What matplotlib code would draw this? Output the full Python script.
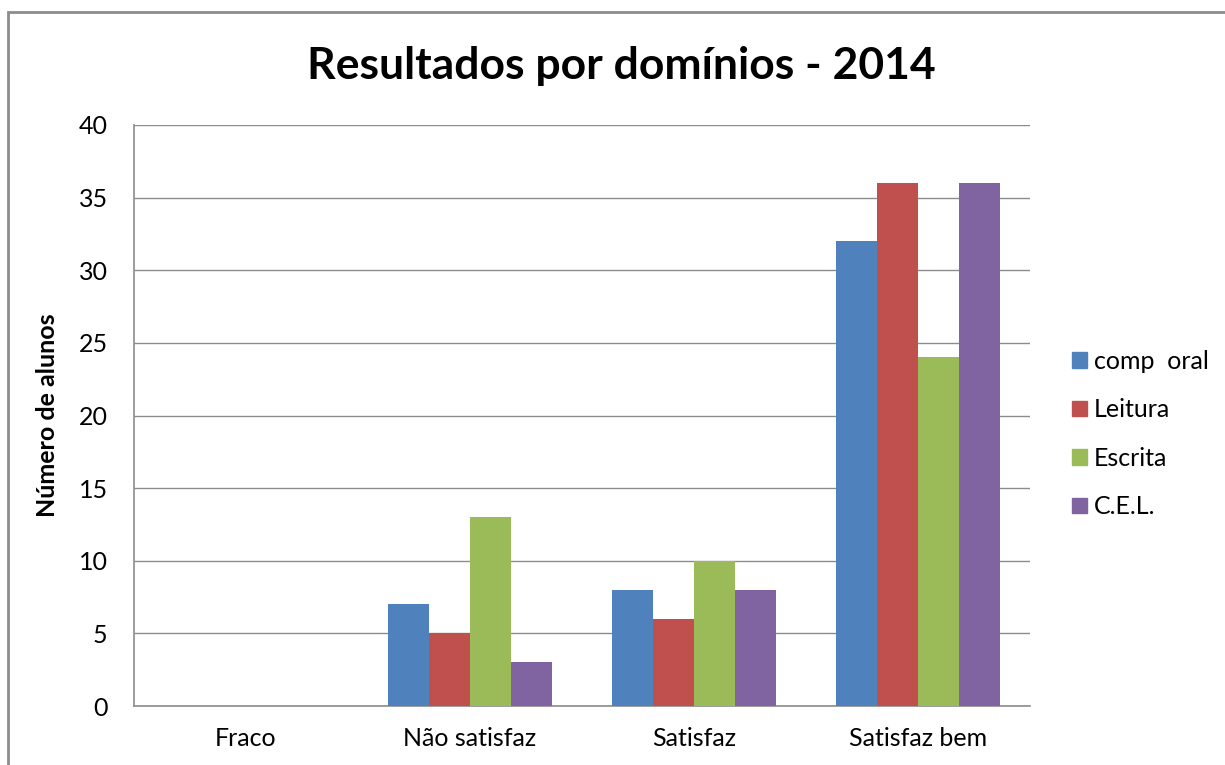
import numpy as np
import matplotlib.pyplot as plt
from matplotlib.patches import Rectangle, Patch

# data
categories = ['Fraco', 'Não satisfaz', 'Satisfaz', 'Satisfaz bem']
series_names = ['comp  oral', 'Leitura', 'Escrita', 'C.E.L.']
comp_oral = [0, 7, 8, 32]
leitura = [0, 5, 6, 36]
escrita = [0, 13, 10, 24]
cel = [0, 3, 8, 36]
colors = ['#4F81BD', '#C0504D', '#9BBB59', '#8064A2']

plt.rcParams['font.family'] = ['Lato', 'DejaVu Sans']

fig = plt.figure(figsize=(12.25, 7.65), dpi=100)
ax = fig.add_axes([134/1225, 1 - 706/765, 896/1225, 581/765])

# outer chart frame (only left/top edges fall inside the image)
fig.patches.append(Rectangle((8/1225, -0.1), 1.2, 1 - 12/765 + 0.1,
                             transform=fig.transFigure, fill=False,
                             edgecolor='#8c8c8c', lw=2.0))

x = np.arange(len(categories))
w = 0.182
all_series = [comp_oral, leitura, escrita, cel]
for i, (vals, c) in enumerate(zip(all_series, colors)):
    ax.bar(x + (i - 1.5) * w, vals, width=w, color=c, zorder=3)

ax.set_xlim(-0.5, 3.5)
ax.set_ylim(0, 40)
ax.set_yticks(range(0, 41, 5))
ax.set_xticks(x)
ax.set_xticklabels(categories)
ax.yaxis.grid(True, color='#8c8c8c', lw=1, zorder=0)
ax.tick_params(length=0, labelsize=18, colors='#000000')
ax.tick_params(axis='y', pad=19)
ax.tick_params(axis='x', pad=15)
for s in ['top', 'right']:
    ax.spines[s].set_visible(False)
for s in ['left', 'bottom']:
    ax.spines[s].set_color('#8c8c8c')
    ax.spines[s].set_linewidth(1.2)

ax.set_ylabel('Número de alunos', fontsize=18, fontweight='bold', labelpad=14)
fig.text(621/1225, 1 - 66/765, 'Resultados por domínios - 2014',
         ha='center', va='center', fontsize=32, fontweight='bold')

handles = [Patch(color=c) for c in colors]
fig.legend(handles, series_names, loc='center left',
           bbox_to_anchor=(1049/1225, 1 - 434/765), frameon=False,
           fontsize=18, handlelength=0.6, handleheight=0.6,
           handletextpad=0.3, labelspacing=1.02)

fig.savefig('out.png', dpi=100)
